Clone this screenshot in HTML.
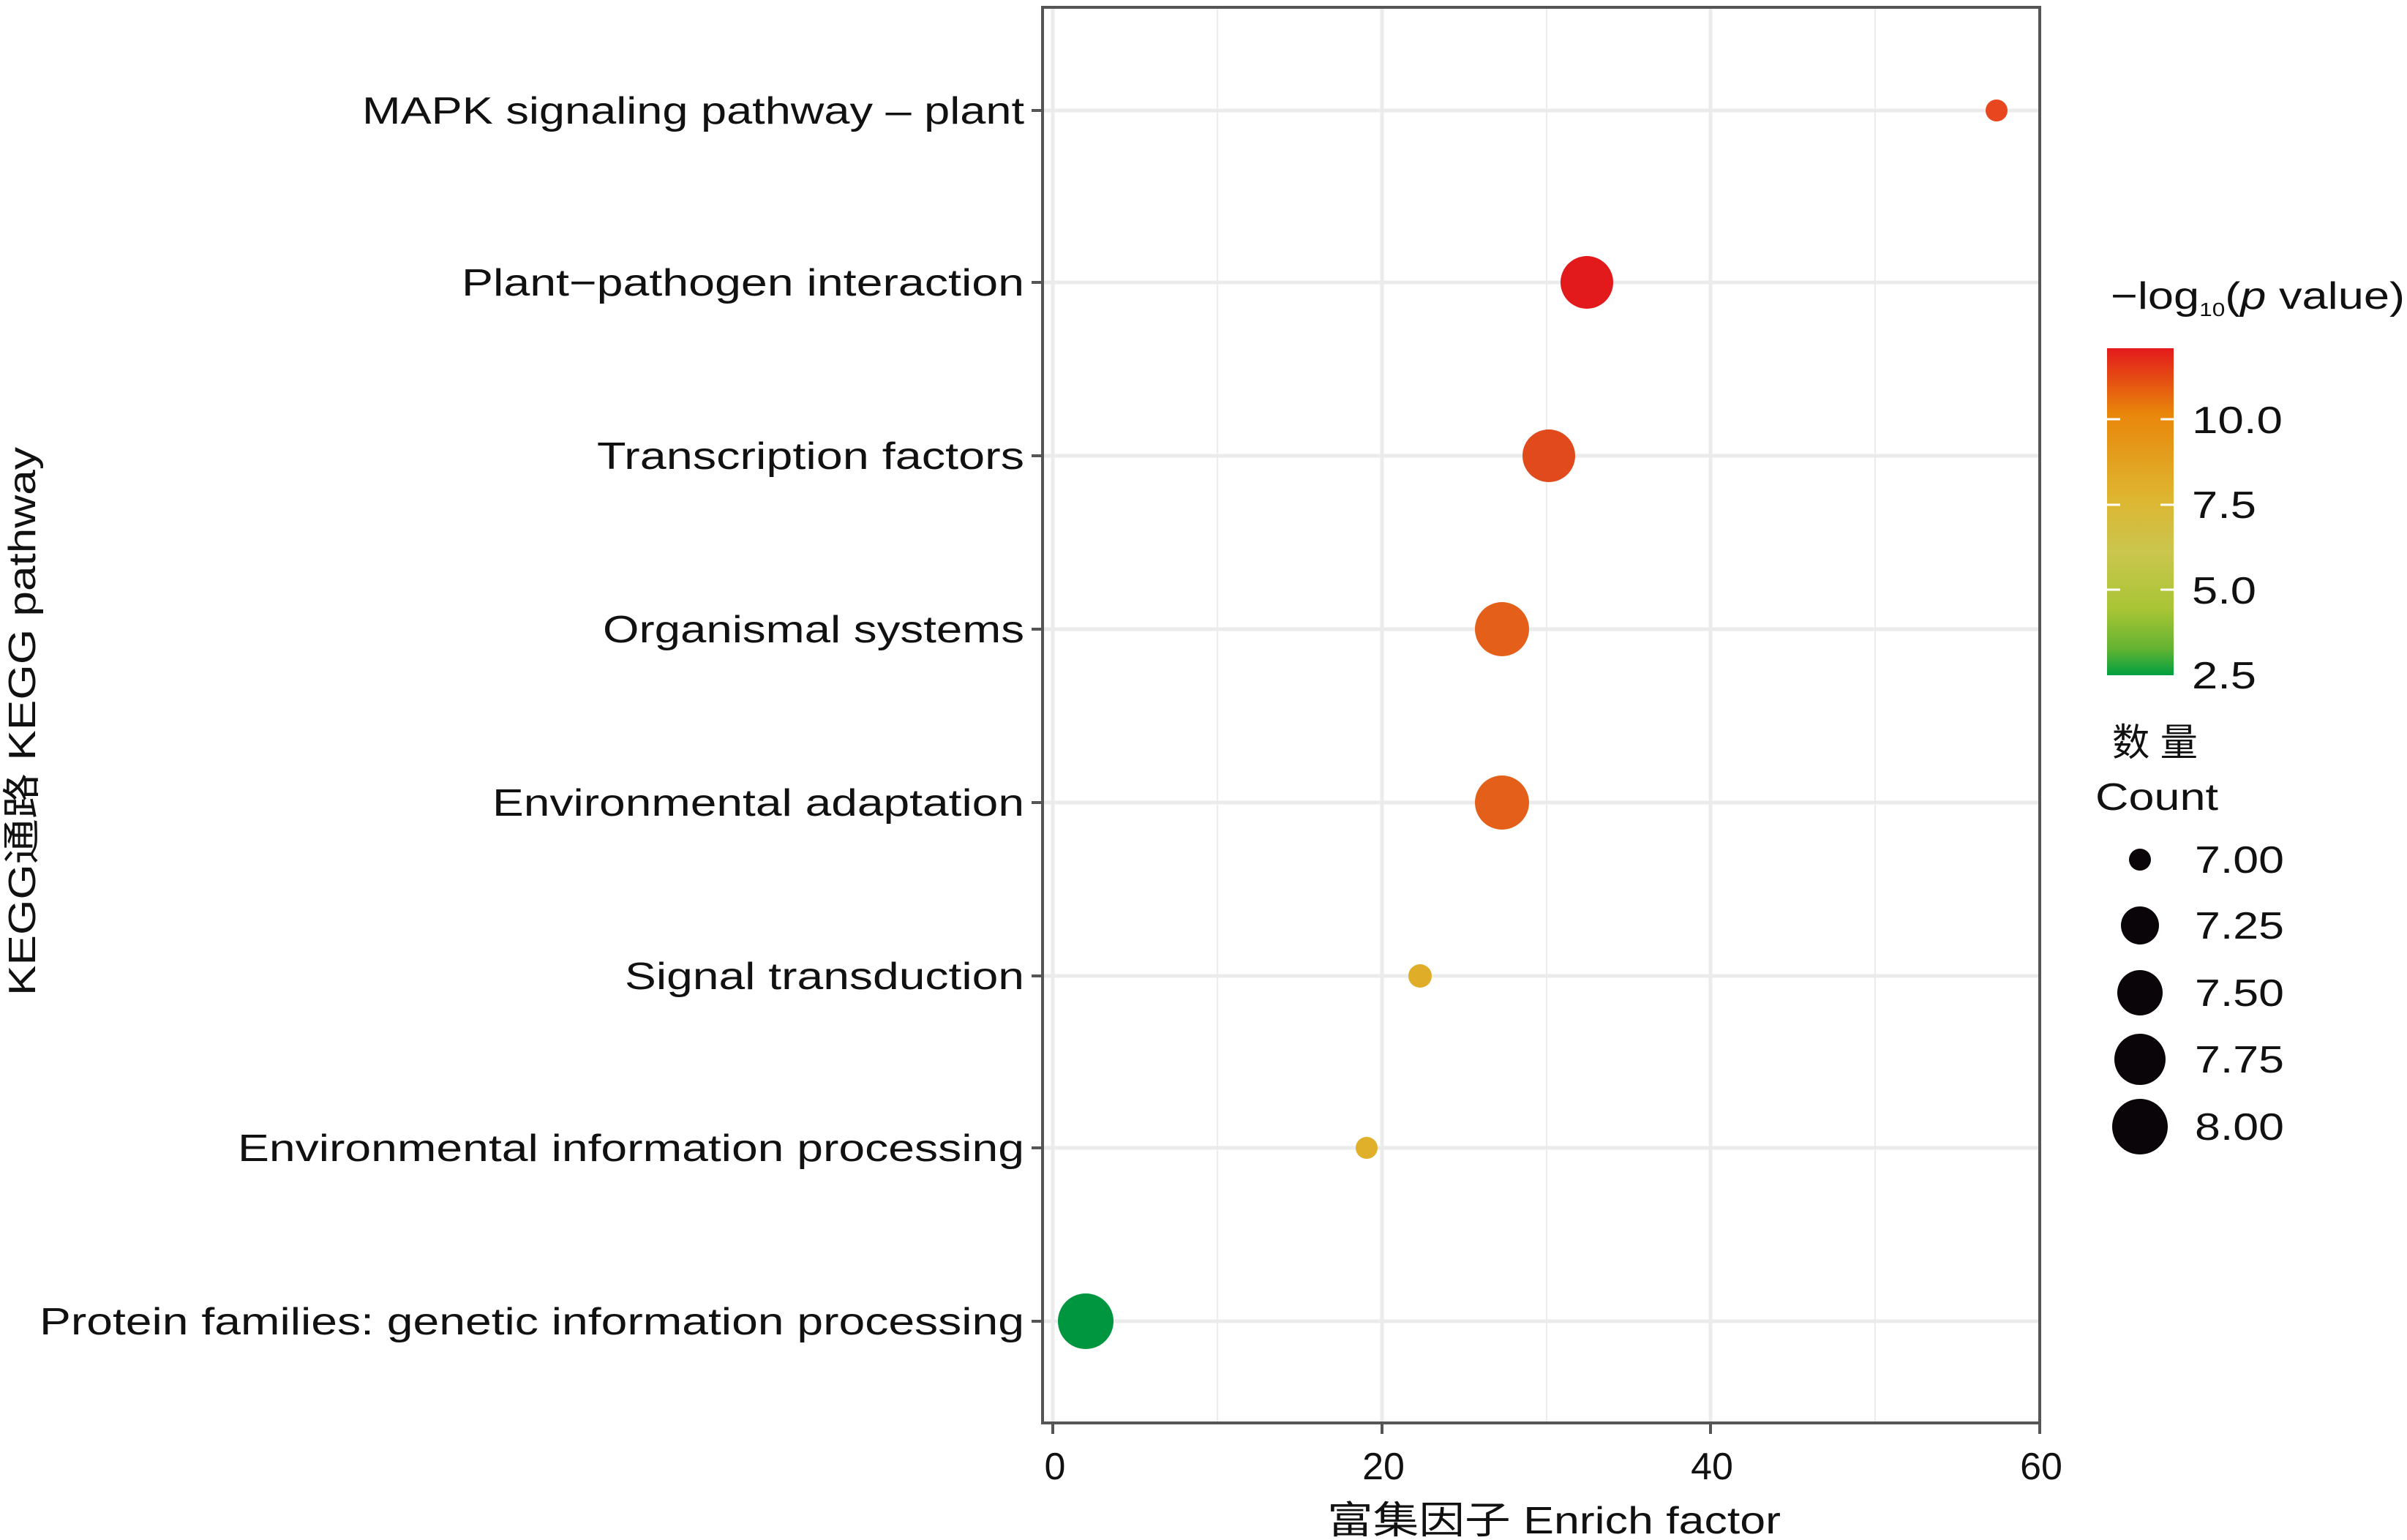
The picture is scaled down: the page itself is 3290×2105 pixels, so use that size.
<!DOCTYPE html>
<html><head><meta charset="utf-8"><style>html,body{margin:0;padding:0;background:#fff}svg{display:block}</style></head>
<body>
<svg width="3290" height="2105" viewBox="0 0 3290 2105" xmlns="http://www.w3.org/2000/svg" font-family="Liberation Sans, Noto Sans CJK SC, sans-serif">
<defs>
<linearGradient id="cb" x1="0" y1="0" x2="0" y2="1">
<stop offset="0" stop-color="#e31a1c"/>
<stop offset="0.2" stop-color="#e8860a"/>
<stop offset="0.45" stop-color="#dfb42f"/>
<stop offset="0.62" stop-color="#cbc64e"/>
<stop offset="0.8" stop-color="#a8c535"/>
<stop offset="0.92" stop-color="#62b332"/>
<stop offset="1" stop-color="#00a040"/>
</linearGradient>
</defs>
<rect width="3290" height="2105" fill="#fff"/>
<g stroke="#ececec" stroke-width="2">
<line x1="1664" y1="10" x2="1664" y2="1945"/>
<line x1="2114" y1="10" x2="2114" y2="1945"/>
<line x1="2563" y1="10" x2="2563" y2="1945"/>
</g>
<g stroke="#ebebeb" stroke-width="5">
<line x1="1439" y1="10" x2="1439" y2="1945"/>
<line x1="1889" y1="10" x2="1889" y2="1945"/>
<line x1="2338" y1="10" x2="2338" y2="1945"/>
<line x1="1425" y1="151" x2="2788" y2="151"/>
<line x1="1425" y1="386" x2="2788" y2="386"/>
<line x1="1425" y1="623" x2="2788" y2="623"/>
<line x1="1425" y1="860" x2="2788" y2="860"/>
<line x1="1425" y1="1097" x2="2788" y2="1097"/>
<line x1="1425" y1="1334" x2="2788" y2="1334"/>
<line x1="1425" y1="1569" x2="2788" y2="1569"/>
<line x1="1425" y1="1806" x2="2788" y2="1806"/>
</g>
<circle cx="2729" cy="151" r="15" fill="#e8461f"/>
<circle cx="2169" cy="386" r="36" fill="#e31a1c"/>
<circle cx="2117" cy="623" r="36" fill="#e04a1c"/>
<circle cx="2053" cy="860" r="37" fill="#e4601a"/>
<circle cx="2053" cy="1097" r="37" fill="#e4601a"/>
<circle cx="1941" cy="1334" r="16" fill="#e0ad28"/>
<circle cx="1868" cy="1569" r="15" fill="#e0b02a"/>
<circle cx="1484" cy="1806" r="38" fill="#00963f"/>
<rect x="1425" y="10" width="1363" height="1935" fill="none" stroke="#555" stroke-width="4"/>
<g stroke="#555" stroke-width="4">
<line x1="1410" y1="151" x2="1425" y2="151"/><line x1="1410" y1="386" x2="1425" y2="386"/>
<line x1="1410" y1="623" x2="1425" y2="623"/><line x1="1410" y1="860" x2="1425" y2="860"/>
<line x1="1410" y1="1097" x2="1425" y2="1097"/><line x1="1410" y1="1334" x2="1425" y2="1334"/>
<line x1="1410" y1="1569" x2="1425" y2="1569"/><line x1="1410" y1="1806" x2="1425" y2="1806"/>
<line x1="1439" y1="1945" x2="1439" y2="1960"/><line x1="1889" y1="1945" x2="1889" y2="1960"/>
<line x1="2338" y1="1945" x2="2338" y2="1960"/><line x1="2788" y1="1945" x2="2788" y2="1960"/>
</g>
<g font-size="52" fill="#111" text-anchor="end">
<text x="1400" y="169" textLength="905" lengthAdjust="spacingAndGlyphs">MAPK signaling pathway – plant</text>
<text x="1400" y="404" textLength="769" lengthAdjust="spacingAndGlyphs">Plant−pathogen interaction</text>
<text x="1400" y="641" textLength="584" lengthAdjust="spacingAndGlyphs">Transcription factors</text>
<text x="1400" y="878" textLength="576" lengthAdjust="spacingAndGlyphs">Organismal systems</text>
<text x="1400" y="1115" textLength="727" lengthAdjust="spacingAndGlyphs">Environmental adaptation</text>
<text x="1400" y="1352" textLength="546" lengthAdjust="spacingAndGlyphs">Signal transduction</text>
<text x="1400" y="1587" textLength="1075" lengthAdjust="spacingAndGlyphs">Environmental information processing</text>
<text x="1400" y="1824" textLength="1346" lengthAdjust="spacingAndGlyphs">Protein families: genetic information processing</text>
</g>
<g font-size="52" fill="#111" text-anchor="middle">
<text x="1442" y="2022">0</text>
<text x="1891" y="2022">20</text>
<text x="2340" y="2022">40</text>
<text x="2790" y="2022">60</text>
<text x="2124" y="2096" textLength="620" lengthAdjust="spacingAndGlyphs">富集因子 Enrich factor</text>
<text transform="translate(48,986) rotate(-90)" textLength="750" lengthAdjust="spacingAndGlyphs">KEGG通路 KEGG pathway</text>
</g>
<text x="2885" y="422" font-size="52" fill="#111" textLength="402" lengthAdjust="spacingAndGlyphs">−log<tspan font-size="26" dy="10">10</tspan><tspan dy="-10">(</tspan><tspan font-style="italic">p</tspan> value)</text>
<rect x="2880" y="476" width="91" height="447" fill="url(#cb)"/>
<g stroke="#fff" stroke-width="3">
<line x1="2880" y1="573" x2="2898" y2="573"/><line x1="2953" y1="573" x2="2971" y2="573"/>
<line x1="2880" y1="690" x2="2898" y2="690"/><line x1="2953" y1="690" x2="2971" y2="690"/>
<line x1="2880" y1="806" x2="2898" y2="806"/><line x1="2953" y1="806" x2="2971" y2="806"/>
</g>
<g font-size="52" fill="#111">
<text x="2996" y="592" textLength="124" lengthAdjust="spacingAndGlyphs">10.0</text>
<text x="2996" y="708" textLength="88" lengthAdjust="spacingAndGlyphs">7.5</text>
<text x="2996" y="825" textLength="88" lengthAdjust="spacingAndGlyphs">5.0</text>
<text x="2996" y="941" textLength="88" lengthAdjust="spacingAndGlyphs">2.5</text>
<text x="2887" y="1033" textLength="117" lengthAdjust="spacingAndGlyphs">数 量</text>
<text x="2864" y="1107" textLength="168" lengthAdjust="spacingAndGlyphs">Count</text>
<text x="3000" y="1193" textLength="122" lengthAdjust="spacingAndGlyphs">7.00</text>
<text x="3000" y="1283" textLength="122" lengthAdjust="spacingAndGlyphs">7.25</text>
<text x="3000" y="1375" textLength="122" lengthAdjust="spacingAndGlyphs">7.50</text>
<text x="3000" y="1466" textLength="122" lengthAdjust="spacingAndGlyphs">7.75</text>
<text x="3000" y="1558" textLength="122" lengthAdjust="spacingAndGlyphs">8.00</text>
</g>
<g fill="#0a0508">
<circle cx="2925" cy="1175" r="15"/>
<circle cx="2925" cy="1265" r="26"/>
<circle cx="2925" cy="1357" r="31"/>
<circle cx="2925" cy="1448" r="35"/>
<circle cx="2925" cy="1540" r="38"/>
</g>
</svg>
</body></html>
